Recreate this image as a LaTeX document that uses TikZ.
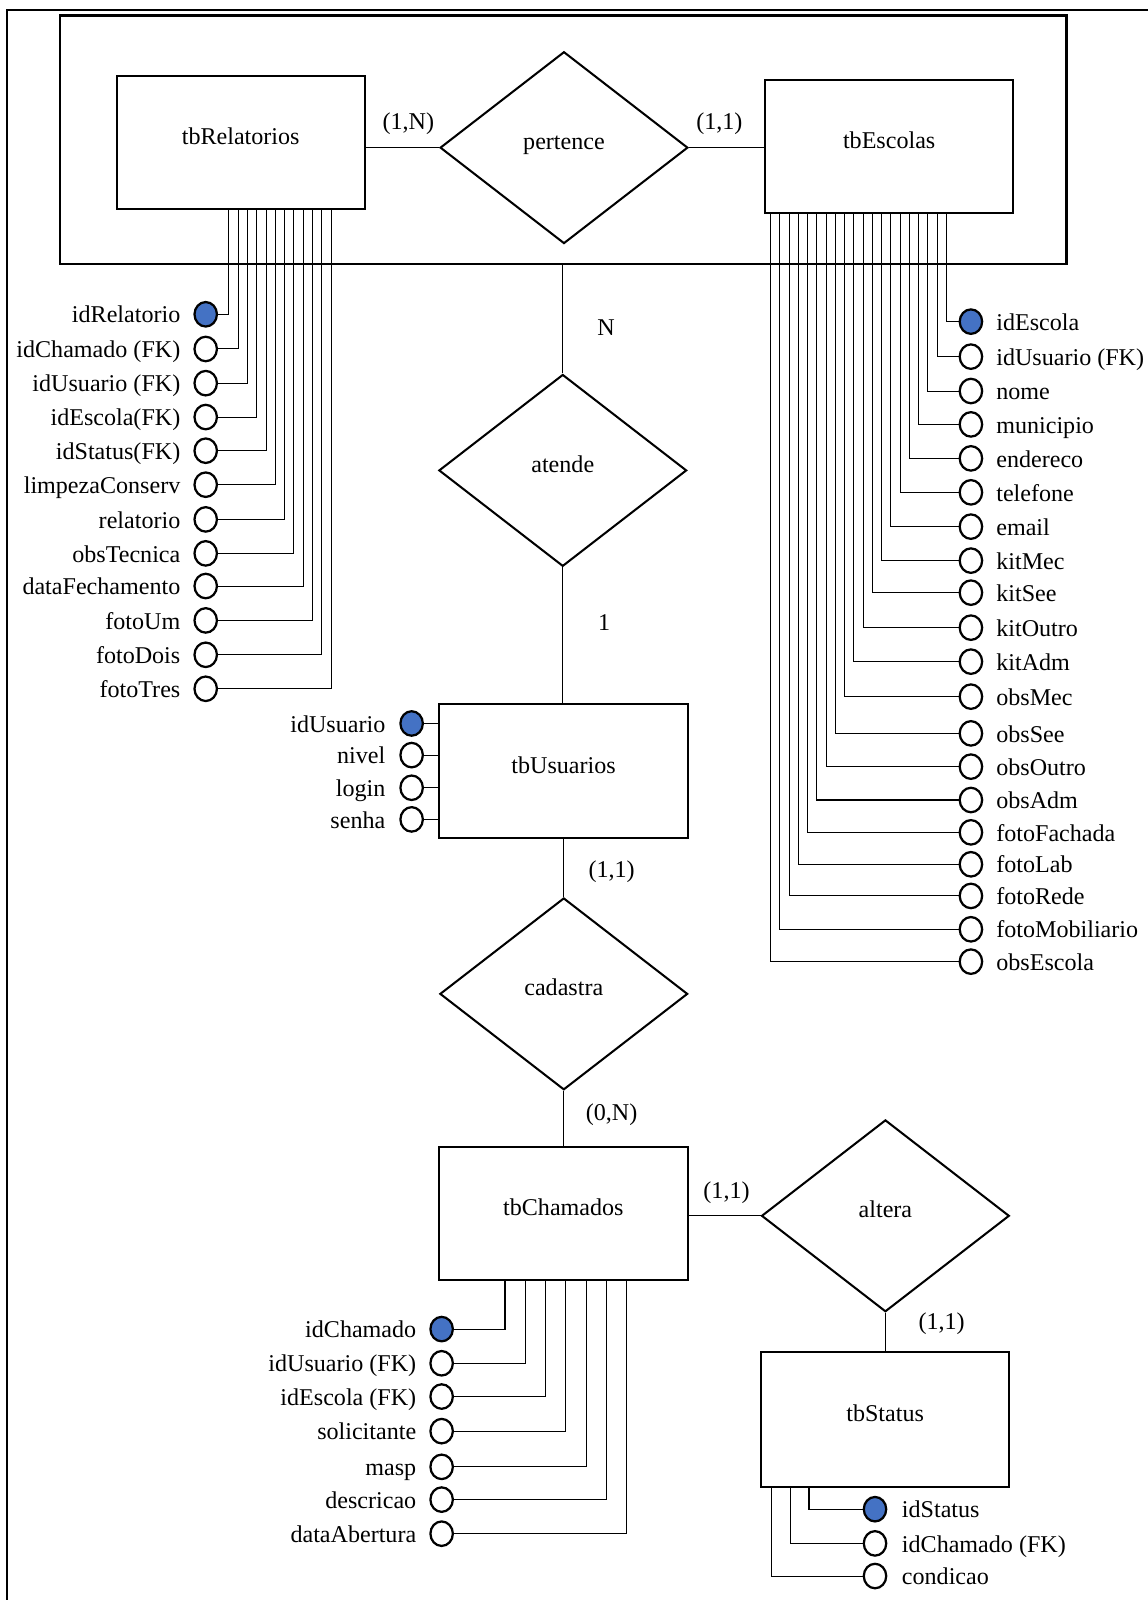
\documentclass[tikz,border=0pt]{standalone}
\usepackage{fontspec}
\setmainfont{Liberation Serif}
\usetikzlibrary{shapes.geometric,calc}
\definecolor{pkblue}{HTML}{4472C4}
\begin{document}
\begin{tikzpicture}[x=0.5pt,y=-0.5pt,
  every node/.style={font=\fontsize{11.8pt}{14pt}\selectfont, inner sep=0pt},
  ent/.style={draw, line width=1pt, rectangle, inner sep=0pt},
  relship/.style={draw, line width=1pt, diamond, inner sep=0pt, minimum width=121.4pt, minimum height=94pt},
  attr/.style={draw, ellipse, line width=1.1pt, minimum width=11pt, minimum height=12pt, fill=white},
  pk/.style={attr, fill=pkblue},
  conn/.style={line width=0.5pt},
  lblL/.style={anchor=base east},
  lblR/.style={anchor=base west},
  ttl/.style={anchor=base}]
\useasboundingbox (0,0) rectangle (1125,1568);
% outer frame
\draw[line width=1pt] (7.2,1568) -- (7.2,9.8) -- (1125,9.8);
% aggregation
\node[draw, line width=1.2pt, minimum width=493.1pt, minimum height=121.65pt] (agg) at (551.9,137.05) {};
% entities
\node[ent, minimum width=121.6pt, minimum height=65.15pt] (rel) at (235.9,139.7) {};
\node[ttl] (relT) at ($(rel.center)+(0,1.7)$) {tbRelatorios};
\node[ent, minimum width=121.65pt, minimum height=65.2pt] (esc) at (871.4,143.6) {};
\node[ttl] (escT) at ($(esc.center)+(0,1.7)$) {tbEscolas};
\node[ent, minimum width=121.75pt, minimum height=65.65pt] (usu) at (552.3,756) {};
\node[ttl] (usuT) at ($(usu.center)+(0,1.7)$) {tbUsuarios};
\node[ent, minimum width=121.9pt, minimum height=65.45pt] (cham) at (552.1,1189.3) {};
\node[ttl] (chamT) at ($(cham.center)+(0,1.7)$) {tbChamados};
\node[ent, minimum width=121.6pt, minimum height=65.85pt] (stat) at (867.4,1391.2) {};
\node[ttl] (statT) at ($(stat.center)+(0,1.7)$) {tbStatus};
% relationships
\node[relship] (per) at (552.7,144.7) {};
\node[ttl] (perT) at ($(per.center)+(0,2)$) {pertence};
\node[relship] (ate) at (551.5,461) {};
\node[ttl] (ateT) at ($(ate.center)+(0,2)$) {atende};
\node[relship] (cad) at (552.5,974) {};
\node[ttl] (cadT) at ($(cad.center)+(0,2)$) {cadastra};
\node[relship] (alt) at (867.7,1191.5) {};
\node[ttl] (altT) at ($(alt.center)+(0,2)$) {altera};
% connectors
\draw[conn] (per.west) -- (per.west -| rel.east);
\draw[conn] (per.east) -- (per.east -| esc.west);
\draw[conn] (ate.north) -- (ate.north |- agg.south);
\draw[conn] (ate.south) -- (ate.south |- usu.north);
\draw[conn] (cad.north) -- (cad.north |- usu.south);
\draw[conn] (cad.south) -- (cad.south |- cham.north);
\draw[conn] (alt.west) -- (alt.west -| cham.east);
\draw[conn] (alt.south) -- (alt.south |- stat.north);
% cardinalities
\node (c1) at (400.2,120.9) {(1,N)};
\node (c2) at (705,120.9) {(1,1)};
\node (c3) at (594,321) {N};
\node (c4) at (592,610) {1};
\node (c5) at (599.4,854.2) {(1,1)};
\node (c6) at (599.4,1092.7) {(0,N)};
\node (c7) at (712,1168.8) {(1,1)};
\node (c8) at (922.8,1297.5) {(1,1)};
% tbRelatorios attributes
\node[pk] (r0) at (201.6,308) {};
\foreach \i/\yy in {1/342,2/375.5,3/408.7,4/441.7,5/475,6/509,7/542.3,8/574.3,9/608,10/641.7,11/675}
  \node[attr] (r\i) at (201.6,\yy) {};
\foreach \i/\txt in {0/idRelatorio,1/idChamado (FK),2/idUsuario (FK),3/idEscola(FK),4/idStatus(FK),5/limpezaConserv,6/relatorio,7/obsTecnica,8/dataFechamento,9/fotoUm,10/fotoDois,11/fotoTres}{
  \node[lblL] (rt\i) at ($(r\i.center)+(-24.5,8.5)$) {\txt};
  \draw[conn] (r\i.east) -| ($(rel.south west)+(111.1+9.09*\i,0)$);
}
% tbEscolas attributes
\node[pk] (e0) at (951.5,315.2) {};
\foreach \i/\yy in {1/349.5,2/383.2,3/415.9,4/449.2,5/482.5,6/516.1,7/549.4,8/580.8,9/615.1,10/648.4,11/682.7,12/718.7,13/751.3,14/784,15/815.7,16/847,17/878,18/910.7,19/942.4}
  \node[attr] (e\i) at (951.5,\yy) {};
\foreach \i/\txt in {0/idEscola,1/idUsuario (FK),2/nome,3/municipio,4/endereco,5/telefone,6/email,7/kitMec,8/kitSee,9/kitOutro,10/kitAdm,11/obsMec,12/obsSee,13/obsOutro,14/obsAdm,15/fotoFachada,16/fotoLab,17/fotoRede,18/fotoMobiliario,19/obsEscola}{
  \node[lblR] (et\i) at ($(e\i.center)+(24.5,8.5)$) {\txt};
  \draw[conn] (e\i.west) -| ($(esc.south west)+(178.64-9.06*\i,0)$);
}
% tbUsuarios attributes
\node[pk] (u0) at (403.4,709) {};
\foreach \i/\yy in {1/740,2/772,3/803}
  \node[attr] (u\i) at (403.4,\yy) {};
\foreach \i/\txt in {0/idUsuario,1/nivel,2/login,3/senha}{
  \node[lblL] (ut\i) at ($(u\i.center)+(-25.4,8.5)$) {\txt};
  \draw[conn] (u\i.east) -- (u\i.east -| usu.west);
}
% tbChamados attributes
\node[pk] (h0) at (432.8,1302.5) {};
\foreach \i/\yy in {1/1336,2/1368.6,3/1402.5,4/1437.5,5/1469.6,6/1503}
  \node[attr] (h\i) at (432.8,\yy) {};
\foreach \i/\txt in {0/idChamado,1/idUsuario (FK),2/idEscola (FK),3/solicitante,4/masp,5/descricao,6/dataAbertura}{
  \node[lblL] (ht\i) at ($(h\i.center)+(-24.5,8.5)$) {\txt};
  \draw[conn] (h\i.east) -| ($(cham.south west)+(65.7+19.9*\i,0)$);
}
% tbStatus attributes
\node[pk] (s0) at (857.5,1479) {};
\foreach \i/\yy in {1/1512.5,2/1544.5}
  \node[attr] (s\i) at (857.5,\yy) {};
\foreach \i/\txt in {0/idStatus,1/idChamado (FK),2/condicao}{
  \node[lblR] (st\i) at ($(s\i.center)+(26,8.5)$) {\txt};
  \draw[conn] (s\i.west) -| ($(stat.south west)+(48-18.3*\i,0)$);
}
\end{tikzpicture}
\end{document}
